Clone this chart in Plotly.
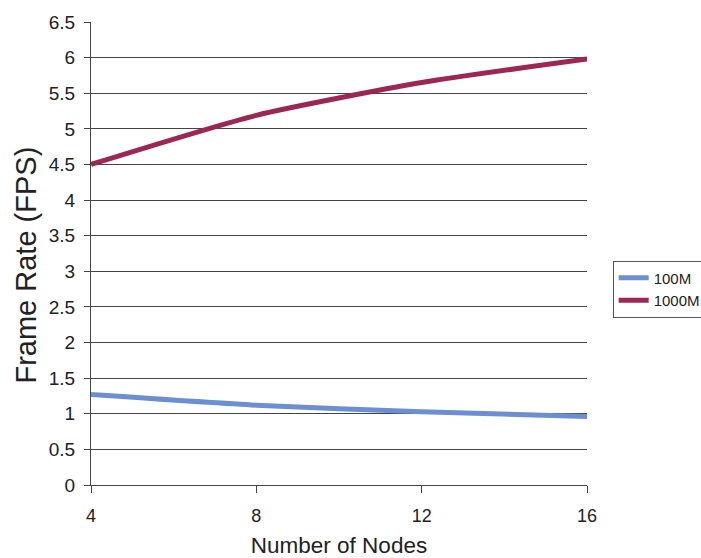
import plotly.graph_objects as go

# Cluster size and measured frame rates
nodes = [4, 8, 12, 16]
fps_100m = [1.27, 1.12, 1.03, 0.96]
fps_1000m = [4.5, 5.19, 5.65, 5.98]
y_ticks = [0, 0.5, 1, 1.5, 2, 2.5, 3, 3.5, 4, 4.5, 5, 5.5, 6, 6.5]
y_tick_text = ["0", "0.5", "1", "1.5", "2", "2.5", "3", "3.5", "4", "4.5", "5", "5.5", "6", "6.5"]

fig = go.Figure()
fig.add_trace(go.Scatter(
    x=nodes, y=fps_100m, name="100M", mode="lines",
    line=dict(color="#6b8fd2", width=5, shape="spline", smoothing=0.6),
))
fig.add_trace(go.Scatter(
    x=nodes, y=fps_1000m, name="1000M", mode="lines",
    line=dict(color="#9c2754", width=5, shape="spline", smoothing=0.6),
))

font = "Liberation Sans, Arial, sans-serif"
fig.update_layout(
    width=701, height=558,
    margin=dict(l=91, r=114, t=22, b=73, autoexpand=False),
    paper_bgcolor="white", plot_bgcolor="white",
    font=dict(family=font, color="#222"),
    showlegend=True,
    legend=dict(
        xref="container", yref="container",
        x=0.874, y=0.482, xanchor="left", yanchor="middle",
        bordercolor="#555", borderwidth=1, bgcolor="white",
        font=dict(size=15, family=font, color="#222"),
        itemwidth=30, tracegroupgap=6,
    ),
    xaxis=dict(
        range=[4, 16], tickvals=nodes, ticktext=[str(n) for n in nodes],
        showgrid=False, zeroline=False,
        showline=True, linecolor="#444", linewidth=1,
        ticks="outside", ticklen=7, tickcolor="#444",
        ticklabelstandoff=7,
        tickfont=dict(size=18, family=font, color="#222"),
        title=dict(text="Number of Nodes", font=dict(size=22.5, family=font, color="#222"), standoff=12),
    ),
    yaxis=dict(
        range=[0, 6.5], tickvals=y_ticks, ticktext=y_tick_text,
        showgrid=True, gridcolor="#444", gridwidth=1,
        zeroline=False,
        showline=True, linecolor="#444", linewidth=1,
        ticks="outside", ticklen=6, tickcolor="#444",
        ticklabelstandoff=5,
        tickfont=dict(size=19, family=font, color="#222"),
    ),
    annotations=[dict(
        text="Frame Rate (FPS)", textangle=-90, showarrow=False,
        xref="paper", yref="paper", x=-0.131, y=0.474,
        xanchor="center", yanchor="middle",
        font=dict(size=29, family=font, color="#222"),
    )],
)

fig.write_html("out.html")
